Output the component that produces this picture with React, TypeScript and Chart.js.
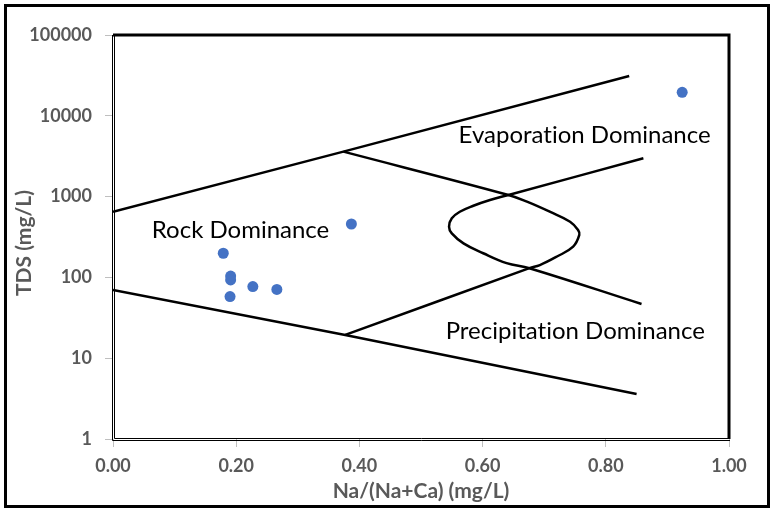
import React, { useEffect, useRef } from 'react';
import { Chart, registerables } from 'chart.js';

Chart.register(...registerables);

// Axis ticks
const xTicks = [0, 0.2, 0.4, 0.6, 0.8, 1.0];
const yTicks = [1, 10, 100, 1000, 10000, 100000];

// Samples: Na/(Na+Ca) vs TDS
const sampleX = [0.179, 0.191, 0.191, 0.19, 0.227, 0.266, 0.387, 0.924];
const sampleTDS = [199, 104, 93, 58, 77, 71, 458, 19500];

// Gibbs boundary lines
const upperX = [0, 0.374, 0.838];
const upperY = [650, 3600, 31100];

const lowerX = [0, 0.377, 0.85];
const lowerY = [70, 19.4, 3.6];

// boundary curve bulging to the right
const curveAX = [0.374, 0.642, 0.672, 0.709, 0.742, 0.755, 0.757, 0.747, 0.72, 0.693, 0.676, 0.377];
const curveAY = [3600, 1047, 865, 650, 489, 386, 335, 240, 180, 142, 130, 19.4];

// boundary curve bulging to the left
const curveBX = [0.858, 0.676, 0.639, 0.601, 0.569, 0.55, 0.5455, 0.55, 0.563, 0.585, 0.612, 0.642, 0.861];
const curveBY = [46.9, 130, 150, 199, 264, 351, 424, 539, 650, 771, 908, 1047, 2980];

// Region labels (anchored at data coordinates: left edge, vertical middle)
const regionLabels = ['Rock Dominance', 'Evaporation Dominance', 'Precipitation Dominance'];
const labelX = [0.063, 0.561, 0.54];
const labelY = [386, 5780, 21.7];

const xTitle = 'Na/(Na+Ca) (mg/L)';
const yTitle = 'TDS (mg/L)';

const toPts = (xs: number[], ys: number[]) => xs.map((x, i) => ({ x, y: ys[i] }));

const lineDs = (xs: number[], ys: number[], tension: number) => ({
  type: 'scatter' as const,
  data: toPts(xs, ys),
  showLine: true,
  borderColor: '#000000',
  borderWidth: 2.5,
  pointRadius: 0,
  pointHoverRadius: 0,
  tension,
  fill: false,
});

const decor = {
  id: 'decor',
  beforeDraw(chart: any) {
    const { ctx, width, height } = chart;
    ctx.save();
    ctx.fillStyle = '#ffffff';
    ctx.fillRect(0, 0, width, height);
    ctx.restore();
  },
  afterDraw(chart: any) {
    const { ctx, chartArea: a, scales } = chart;
    ctx.save();
    // outer frame
    ctx.strokeStyle = '#000000';
    ctx.lineWidth = 3;
    ctx.strokeRect(5.5, 5.5, 763, 501);
    // plot area border: thick top/right
    ctx.lineWidth = 3;
    ctx.beginPath();
    ctx.moveTo(a.left, a.top);
    ctx.lineTo(a.right, a.top);
    ctx.lineTo(a.right, a.bottom);
    ctx.stroke();
    // thin double left/bottom
    ctx.lineWidth = 1;
    ctx.beginPath();
    ctx.moveTo(a.left - 0.5, a.top);
    ctx.lineTo(a.left - 0.5, a.bottom + 1.5);
    ctx.lineTo(a.right + 1, a.bottom + 1.5);
    ctx.moveTo(a.left + 1.5, a.top);
    ctx.lineTo(a.left + 1.5, a.bottom - 0.5);
    ctx.lineTo(a.right, a.bottom - 0.5);
    ctx.stroke();

    // region labels
    ctx.fillStyle = '#000000';
    ctx.font = '24px Lato';
    try {
      (ctx as any).textRendering = 'optimizeSpeed';
    } catch (e) {
      /* ignore */
    }
    ctx.textAlign = 'left';
    ctx.textBaseline = 'middle';
    regionLabels.forEach((t, i) => {
      ctx.fillText(t, scales.x.getPixelForValue(labelX[i]), scales.y.getPixelForValue(labelY[i]));
    });

    // axis titles
    ctx.fillStyle = '#595959';
    ctx.font = 'bold 21px Lato';
    ctx.textAlign = 'center';
    ctx.textBaseline = 'middle';
    ctx.fillText(xTitle, (a.left + a.right) / 2, a.bottom + 52);
    ctx.translate(24, (a.top + a.bottom) / 2 + 6);
    ctx.rotate(-Math.PI / 2);
    ctx.fillText(yTitle, 0, 0);
    ctx.restore();
  },
};

export default function App() {
  const ref = useRef<HTMLCanvasElement | null>(null);

  useEffect(() => {
    if (!ref.current) return;
    const chart = new Chart(ref.current, {
      type: 'scatter',
      data: {
        datasets: [
          {
            type: 'scatter',
            data: toPts(sampleX, sampleTDS),
            backgroundColor: '#4472C4',
            borderColor: '#4472C4',
            pointRadius: 5.5,
            pointBorderWidth: 0,
            showLine: false,
          },
          lineDs(upperX, upperY, 0),
          lineDs(lowerX, lowerY, 0),
          lineDs(curveAX, curveAY, 0.4),
          lineDs(curveBX, curveBY, 0.4),
        ] as any,
      },
      options: {
        responsive: false,
        animation: false,
        events: [],
        layout: { padding: { left: 0, top: 35, right: 47, bottom: 0 } },
        plugins: {
          legend: { display: false },
          tooltip: { enabled: false },
        },
        scales: {
          x: {
            type: 'linear',
            min: 0,
            max: 1,
            afterFit: (s: any) => {
              s.height = 75;
            },
            afterBuildTicks: (s: any) => {
              s.ticks = xTicks.map((v) => ({ value: v }));
            },
            ticks: {
              color: '#595959',
              font: { family: 'Lato', size: 18, weight: 'bold' },
              padding: 8,
              maxRotation: 0,
              callback: (v: any) => Number(v).toFixed(2),
            },
            grid: {
              display: true,
              drawOnChartArea: false,
              drawTicks: true,
              tickLength: 8,
              color: '#BFBFBF',
            },
            border: { display: false },
          },
          y: {
            type: 'logarithmic',
            min: 1,
            max: 100000,
            afterFit: (s: any) => {
              s.width = 113;
            },
            afterBuildTicks: (s: any) => {
              s.ticks = yTicks.map((v) => ({ value: v }));
            },
            ticks: {
              color: '#595959',
              font: { family: 'Lato', size: 18, weight: 'bold' },
              padding: 13,
              callback: (v: any) => String(v),
            },
            grid: {
              display: true,
              drawOnChartArea: false,
              drawTicks: true,
              tickLength: 8,
              color: '#BFBFBF',
            },
            border: { display: false },
          },
        },
      },
      plugins: [decor],
    });
    return () => chart.destroy();
  }, []);

  return (
    <div style={{ position: 'fixed', left: 0, top: 0, width: 776, height: 514, background: '#fff' }}>
      <canvas ref={ref} width={776} height={514} style={{ display: 'block' }} />
    </div>
  );
}
